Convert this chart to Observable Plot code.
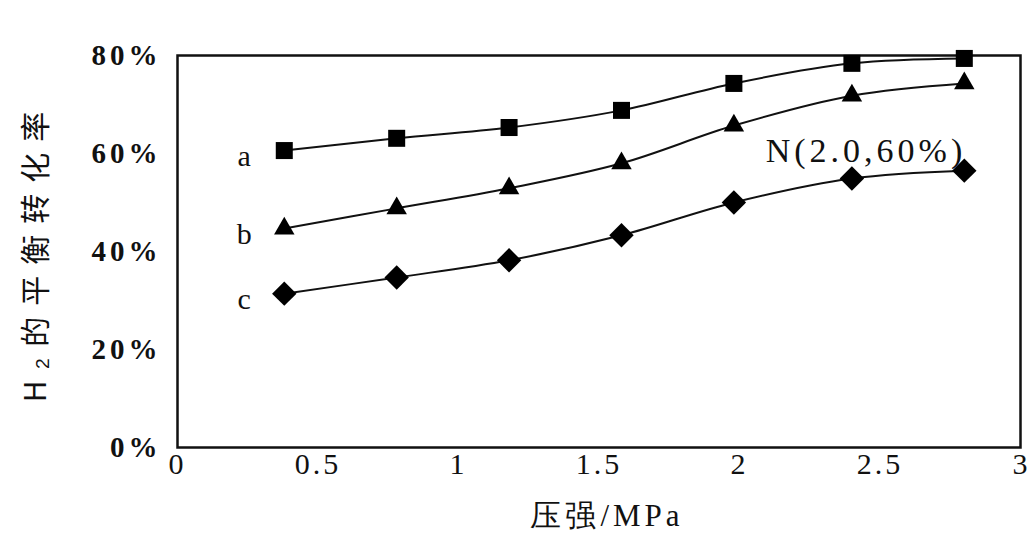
<!DOCTYPE html>
<html>
<head>
<meta charset="utf-8">
<script src="https://cdn.jsdelivr.net/npm/d3@7"></script>
<script src="https://cdn.jsdelivr.net/npm/@observablehq/plot@0.6"></script>
<style>
  html, body { margin: 0; padding: 0; background: #fff; }
  #chart svg { display: block; }
</style>
</head>
<body>
<div id="chart"></div>
<script>
// ---- data ----
const pressure = [0.38, 0.78, 1.18, 1.58, 1.98, 2.4, 2.8];      // MPa
const seriesA = [60.6, 63.1, 65.3, 68.8, 74.3, 78.4, 79.4];      // %
const seriesB = [44.7, 48.8, 52.9, 58.0, 65.7, 71.8, 74.3];      // %
const seriesC = [31.4, 34.7, 38.2, 43.3, 50.0, 54.9, 56.5];      // %
const seriesNames = ["a", "b", "c"];
const xTicks = [0, 0.5, 1, 1.5, 2, 2.5, 3];
const xTickLabels = ["0", "0.5", "1", "1.5", "2", "2.5", "3"];
const yTicks = [0, 20, 40, 60, 80];
const yTickLabels = ["0%", "20%", "40%", "60%", "80%"];
const xLabel = "压强/MPa";
const yLabel = "H₂的平衡转化率";
const noteText = "N(2.0,60%)";

const allSeries = [seriesA, seriesB, seriesC];
const rows = allSeries.flatMap((vals, i) =>
  vals.map((v, j) => ({series: seriesNames[i], p: pressure[j], v})));
const firstPoints = allSeries.map((vals, i) => ({series: seriesNames[i], p: pressure[0], v: vals[0]}));

const serif = "'Liberation Serif', 'DejaVu Serif', serif";

const plot = Plot.plot({
  width: 1027,
  height: 537,
  marginLeft: 177,
  marginRight: 7,
  marginTop: 55,
  marginBottom: 90,
  style: {fontFamily: serif, background: "#fff", color: "#111", overflow: "visible"},
  x: {domain: [0, 3]},
  y: {domain: [0, 80]},
  marks: [
    Plot.frame({stroke: "#111", strokeWidth: 2.5}),
    Plot.axisX({ticks: xTicks, tickSize: 0, tickPadding: 5, label: null,
      fontSize: 30, fill: "#111", fontFamily: serif,
      tickFormat: (d) => xTickLabels[xTicks.indexOf(d)]}),
    Plot.axisY({ticks: yTicks, tickSize: 0, tickPadding: 16, label: null,
      fontSize: 29, fontWeight: "bold", fill: "#111", fontFamily: serif,
      tickFormat: (d) => yTickLabels[yTicks.indexOf(d)]}),
    Plot.line(rows, {x: "p", y: "v", z: "series", curve: "catmull-rom",
      stroke: "#111", strokeWidth: 2}),
    Plot.dot(rows.filter(d => d.series === "a"), {x: "p", y: "v", symbol: "square", r: 9.6, fill: "#000", stroke: "none"}),
    Plot.dot(rows.filter(d => d.series === "b"), {x: "p", y: "v", symbol: "triangle", r: 7.6, fill: "#000", stroke: "none"}),
    Plot.dot(rows.filter(d => d.series === "c"), {x: "p", y: "v", symbol: "diamond2", r: 11, fill: "#000", stroke: "none"}),
    Plot.text(firstPoints, {x: "p", y: "v", text: "series", dx: -40, dy: 6,
      fontSize: 30, fill: "#111", fontFamily: serif}),
    Plot.text([noteText], {x: 2.45, y: 60.5, text: (d) => d, fontSize: 34,
      fill: "#111", fontFamily: serif}),
    Plot.text([xLabel], {frameAnchor: "bottom", dx: 8, dy: 78, text: (d) => d,
      fontSize: 31, fill: "#111", fontFamily: serif}),
    Plot.text([yLabel], {frameAnchor: "left", textAnchor: "middle", dx: -141, rotate: -90, text: (d) => d,
      fontSize: 30, fill: "#111", fontFamily: "'Noto Sans CJK SC', sans-serif"})
  ]
});

// letter-spacing to mimic the horizontally stretched scan
const svg = d3.select(plot);
svg.selectAll("g[aria-label='x-axis tick label'] text")
  .style("letter-spacing", "3px");
svg.selectAll("g[aria-label='y-axis tick label'] text")
  .style("letter-spacing", "4px");
// keep the last x tick label ("3") inside the picture
svg.selectAll("g[aria-label='x-axis tick label'] text").filter(function () {
  return this.textContent === xTickLabels[xTickLabels.length - 1];
}).style("letter-spacing", "0px").attr("text-anchor", "end").attr("dx", "7");
svg.selectAll("g[aria-label='text'] text").filter(function () {
  return this.textContent === noteText;
}).style("letter-spacing", "4px");
svg.selectAll("g[aria-label='text'] text").filter(function () {
  return this.textContent === yLabel;
}).style("letter-spacing", "11px");
svg.selectAll("g[aria-label='text'] text").filter(function () {
  return this.textContent === xLabel;
}).style("letter-spacing", "4px");
document.getElementById("chart").appendChild(plot);
</script>
</body>
</html>
